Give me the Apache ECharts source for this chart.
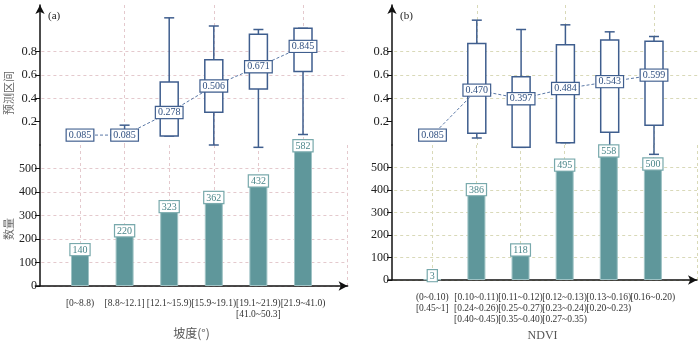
<!DOCTYPE html>
<html>
<head>
<meta charset="utf-8">
<script src="https://cdn.jsdelivr.net/npm/echarts@6/dist/echarts.min.js"></script>
<style>
html, body { margin: 0; padding: 0; background: #fff; }
#chart { width: 700px; height: 343px; }
</style>
</head>
<body>
<div id="chart"></div>
<script>
// ==============================================================
// data
// ==============================================================
var slopeCats = ['[0~8.8)', '[8.8~12.1]', '[12.1~15.9)', '[15.9~19.1)', '[19.1~21.9)\n[41.0~50.3]', '[21.9~41.0)'];
var ndviCats = ['(0~0.10)\n[0.45~1]', '[0.10~0.11)\n[0.24~0.26)\n[0.40~0.45)', '[0.11~0.12)\n[0.25~0.27)\n[0.35~0.40)',
                '[0.12~0.13)\n[0.23~0.24)\n[0.27~0.35)', '[0.13~0.16)\n[0.20~0.23)', '[0.16~0.20)'];

// mean of predicted interval
var slopeMean = [0.085, 0.085, 0.278, 0.506, 0.671, 0.845];
var ndviMean = [0.085, 0.470, 0.397, 0.484, 0.543, 0.599];

// box: [min, q1, q3, max], null = no box
var slopeBox = [null, [0.085, 0.085, 0.085, 0.17], [0.077, 0.077, 0.54, 1.09], [0.0, 0.28, 0.73, 1.02], [-0.02, 0.48, 0.95, 0.99], [0.09, 0.63, 1.0, 1.0]];
var ndviBox = [null, [0.06, 0.10, 0.87, 1.07], [-0.02, -0.02, 0.585, 0.99], [0.02, 0.02, 0.86, 1.03], [-0.04, 0.11, 0.90, 0.97], [-0.08, 0.17, 0.89, 0.93]];

// counts
var slopeCount = [140, 220, 323, 362, 432, 582];
var ndviCount = [3, 386, 118, 495, 558, 500];

var topTicks = [0.2, 0.4, 0.6, 0.8];
var bottomTicks = [0, 100, 200, 300, 400, 500];

// ==============================================================
var serif = 'Liberation Serif';
var boxColor = '#3f5e8e';
var barColor = '#5f979b';

function padCats(cats) { return [''].concat(cats).concat(['']); }

function boxRender(params, api) {
    var i = api.value(0);
    var x = api.coord([i, 0])[0];
    var yMin = api.coord([i, api.value(1)])[1];
    var yQ1 = api.coord([i, api.value(2)])[1];
    var yQ3 = api.coord([i, api.value(3)])[1];
    var yMax = api.coord([i, api.value(4)])[1];
    var st = { stroke: boxColor, lineWidth: 1.5, fill: null };
    return {
        type: 'group',
        children: [
            { type: 'line', shape: { x1: x, y1: yMax, x2: x, y2: yQ3 }, style: st },
            { type: 'line', shape: { x1: x, y1: yQ1, x2: x, y2: yMin }, style: st },
            { type: 'line', shape: { x1: x - 5, y1: yMax, x2: x + 5, y2: yMax }, style: st },
            { type: 'line', shape: { x1: x - 5, y1: yMin, x2: x + 5, y2: yMin }, style: st },
            { type: 'rect', shape: { x: x - 9, y: yQ3, width: 18, height: yQ1 - yQ3 }, style: { stroke: boxColor, lineWidth: 1.5, fill: '#fff' } }
        ]
    };
}

var grids = [], xAxes = [], yAxes = [], series = [];

function addPanel(left, width, yOff, cats, box, mean, count, gridColor, xName, nameGap, nameFont) {
    var g = grids.length;
    var split = { show: true, showMinLine: false, lineStyle: { color: gridColor, type: [3, 3], width: 1 } };
    grids.push({ left: left, width: width, top: 5, height: 140 });
    grids.push({ left: left, width: width, top: 145, height: 141 });

    // top (prediction interval)
    xAxes.push({
        gridIndex: g, type: 'category', boundaryGap: false, data: padCats(cats),
        axisLine: { show: false }, axisTick: { show: false }, axisLabel: { show: false },
        splitLine: split
    });
    yAxes.push({
        gridIndex: g, type: 'value', min: 0, max: 1.2, interval: 0.2, offset: yOff,
        axisLine: { show: true, symbol: ['none', 'arrow'], symbolSize: [7, 9], lineStyle: { color: '#111', width: 1.5 } },
        axisTick: { show: true, length: 5, customValues: topTicks, lineStyle: { color: '#111' } },
        axisLabel: { customValues: topTicks, margin: 3, color: '#222', fontFamily: serif, fontSize: 12.5,
                     formatter: function (v) { return v.toFixed(1); } },
        splitLine: { show: true, showMinLine: false, lineStyle: { color: gridColor, type: [3, 3], width: 1 } }
    });

    // bottom (count)
    xAxes.push({
        gridIndex: g + 1, type: 'category', boundaryGap: false, data: padCats(cats), offset: 4,
        name: xName, nameLocation: 'middle', nameGap: nameGap,
        nameTextStyle: { color: '#555', fontSize: 12, fontFamily: nameFont },
        axisLine: { show: true, symbol: ['none', 'arrow'], symbolSize: [7, 9], lineStyle: { color: '#111', width: 1.5 } },
        axisTick: { show: false },
        axisLabel: { color: '#333', fontFamily: serif, fontSize: 9.5, lineHeight: 11, margin: 8, interval: 0 },
        splitLine: split
    });
    yAxes.push({
        gridIndex: g + 1, type: 'value', min: 0, max: 600, interval: 100, offset: yOff,
        axisLine: { show: true, lineStyle: { color: '#111', width: 1.5 } },
        axisTick: { show: true, length: 5, customValues: bottomTicks, lineStyle: { color: '#111' } },
        axisLabel: { customValues: bottomTicks, margin: 3, color: '#222', fontFamily: serif, fontSize: 12 },
        splitLine: { show: true, lineStyle: { color: gridColor, type: [3, 3], width: 1 } }
    });

    var boxData = [];
    box.forEach(function (b, i) { if (b) boxData.push([i + 1].concat(b)); });
    series.push({
        type: 'custom', xAxisIndex: g, yAxisIndex: g, renderItem: boxRender,
        encode: { x: 0, y: [1, 2, 3, 4] }, data: boxData, z: 2, clip: false
    });
    series.push({
        type: 'line', xAxisIndex: g, yAxisIndex: g, z: 4,
        data: mean.map(function (v, i) { return [i + 1, v]; }),
        symbol: 'circle', symbolSize: 1,
        itemStyle: { color: boxColor },
        lineStyle: { color: '#5a78a6', width: 1, type: [3, 2] },
        label: {
            show: true, position: 'inside', formatter: function (p) { return p.value[1].toFixed(3); },
            backgroundColor: '#fff', borderColor: boxColor, borderWidth: 1.2, padding: [1, 2, 0, 2],
            color: '#2f4f80', fontFamily: serif, fontSize: 10, lineHeight: 10
        }
    });
    series.push({
        type: 'bar', xAxisIndex: g + 1, yAxisIndex: g + 1, barWidth: 18,
        data: count.map(function (v, i) { return [i + 1, v]; }),
        itemStyle: { color: barColor, borderColor: '#9fc3c5', borderWidth: 1 },
        label: {
            show: true, position: 'top', distance: -2,
            backgroundColor: '#fff', borderColor: '#78a9ac', borderWidth: 1.2, padding: [1, 2, 0, 2],
            color: '#4a8589', fontFamily: serif, fontSize: 10, lineHeight: 10
        }
    });
}

addPanel(35.4, 312.2, -4.6, slopeCats, slopeBox, slopeMean, slopeCount, '#e4c9cd', '坡度(°)', 37, 'Noto Sans CJK SC');
addPanel(388.2, 310.1, -3.8, ndviCats, ndviBox, ndviMean, ndviCount, '#d9d9b8', 'NDVI', 46, serif);

var myChart = echarts.init(document.getElementById('chart'));
option = {
    animation: false,
    grid: grids,
    xAxis: xAxes,
    yAxis: yAxes,
    series: series,
    graphic: [
        { type: 'text', left: 48, top: 11, style: { text: '(a)', font: '11px "Liberation Serif"', fill: '#222' } },
        { type: 'text', left: 400, top: 11, style: { text: '(b)', font: '11px "Liberation Serif"', fill: '#222' } },
        { type: 'text', x: 9, y: 93, rotation: Math.PI / 2, style: { text: '预测区间', font: '11px "Noto Sans CJK SC"', fill: '#666', align: 'center', verticalAlign: 'middle' } },
        { type: 'text', x: 9, y: 229, rotation: Math.PI / 2, style: { text: '数量', font: '11px "Noto Sans CJK SC"', fill: '#666', align: 'center', verticalAlign: 'middle' } }
    ]
};
myChart.setOption(option, true);
</script>
</body>
</html>
